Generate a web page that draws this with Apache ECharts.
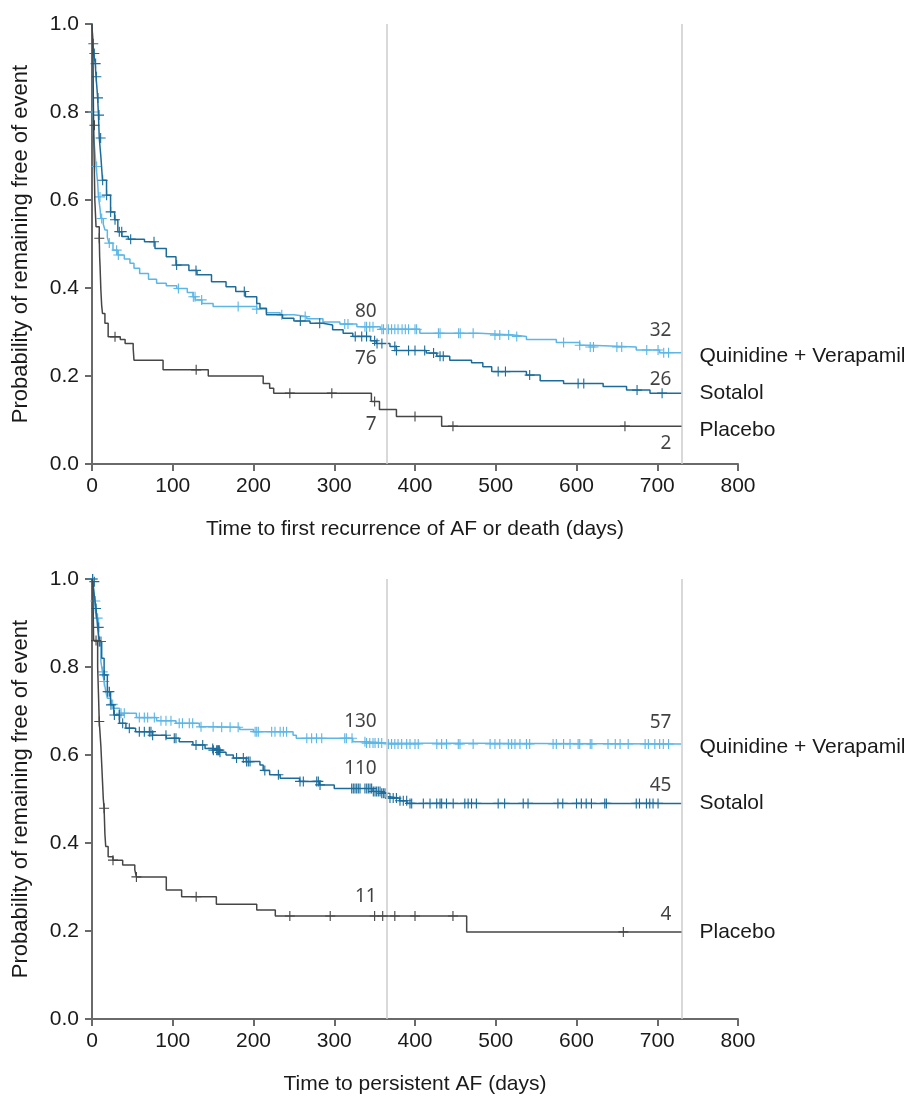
<!DOCTYPE html>
<html>
<head>
<meta charset="utf-8">
<script src="https://cdn.jsdelivr.net/npm/echarts@6/dist/echarts.min.js"></script>
<style>
  html, body { margin: 0; padding: 0; background: #fff; }
  #chart { width: 908px; height: 1096px; }
</style>
</head>
<body>
<div id="chart"></div>
<script>
// Kaplan-Meier curves, [day, probability from that day on]
const topQuinidine = [[0,1],[1,0.955],[1.5,0.8],[2,0.748],[4,0.7],[5,0.676],[7,0.64],[8,0.607],[10,0.58],[11,0.558],
  [14,0.545],[16,0.532],[19,0.515],[21,0.502],[26,0.486],[32,0.475],[40,0.466],[47,0.456],[52,0.445],[59,0.433],
  [70,0.42],[80,0.411],[92,0.405],[105,0.399],[118,0.39],[125,0.38],[128,0.373],[136,0.365],[150,0.358],[204,0.352],
  [216,0.344],[233,0.339],[250,0.335],[266,0.33],[286,0.323],[307,0.318],[328,0.312],[357,0.306],[406,0.297],
  [480,0.293],[522,0.29],[538,0.283],[575,0.276],[604,0.27],[617,0.266],[674,0.259],[703,0.253],[730,0.253]];
const topSotalol = [[0,1],[1,0.955],[2,0.933],[4,0.91],[5,0.88],[6,0.857],[7,0.832],[8,0.793],[9,0.741],[11,0.698],
  [13,0.645],[18,0.611],[23,0.573],[28,0.555],[32,0.528],[37,0.517],[45,0.511],[65,0.505],[78,0.49],[92,0.471],
  [104,0.452],[120,0.44],[130,0.43],[148,0.414],[166,0.403],[178,0.392],[190,0.38],[204,0.365],[208,0.354],
  [216,0.339],[236,0.331],[250,0.325],[270,0.32],[286,0.316],[298,0.305],[311,0.297],[323,0.29],[345,0.28],
  [352,0.274],[369,0.267],[377,0.258],[414,0.252],[427,0.245],[443,0.236],[470,0.23],[484,0.221],[495,0.21],
  [538,0.202],[555,0.189],[584,0.183],[633,0.176],[662,0.168],[691,0.161],[730,0.161]];
const topPlacebo = [[0,1],[1,0.945],[2,0.77],[3.5,0.6],[5,0.539],[9,0.513],[9.5,0.47],[10,0.448],[11,0.395],
  [12,0.36],[13,0.342],[16,0.32],[20,0.289],[35,0.283],[41,0.274],[51,0.263],[52,0.236],[88,0.214],[144,0.2],
  [212,0.183],[220,0.172],[225,0.161],[346,0.142],[356,0.124],[377,0.108],[433,0.086],[730,0.086]];

const bottomQuinidine = [[0,1],[1,0.994],[3,0.95],[5,0.911],[8,0.858],[11,0.812],[13,0.789],[15,0.767],[17,0.745],
  [19,0.729],[23,0.715],[26,0.706],[34,0.695],[55,0.685],[80,0.678],[104,0.672],[133,0.664],[154,0.663],[183,0.658],
  [200,0.653],[249,0.645],[253,0.638],[323,0.63],[340,0.627],[365,0.625],[730,0.625]];
const bottomSotalol = [[0,1],[1,0.994],[3,0.96],[5,0.933],[7,0.89],[9,0.858],[12,0.82],[15,0.782],[19,0.744],
  [23,0.714],[27,0.691],[34,0.672],[42,0.661],[54,0.653],[75,0.645],[92,0.638],[108,0.63],[125,0.623],[140,0.615],
  [150,0.611],[158,0.606],[166,0.6],[175,0.593],[191,0.585],[208,0.577],[212,0.565],[220,0.555],[233,0.547],
  [257,0.54],[282,0.532],[300,0.524],[348,0.517],[357,0.513],[365,0.505],[369,0.502],[381,0.496],[390,0.49],[730,0.49]];
const bottomPlacebo = [[0,1],[1,0.994],[2,0.86],[7,0.8],[8,0.74],[9,0.676],[11,0.62],[12,0.58],[13,0.54],[14,0.5],
  [15,0.479],[16,0.42],[17,0.392],[20,0.369],[26,0.361],[38,0.35],[53,0.339],[55,0.323],[92,0.293],[111,0.278],
  [154,0.261],[204,0.248],[227,0.234],[464,0.198],[730,0.198]];

// censored observations (days)
const topQuinidineCensor = [1.6,5.8,9.9,12,21.4,30.5,32.6,107,125.5,127.6,135.8,181,204,235,264,313,317,338,340,344,
  348,359,361,365,367,371,375,379,384,388,392,400,402,429,431,454,456,472,499,505,516,526,584,604,617,621,650,656,
  687,701,708,714];
const topSotalolCensor = [1.6,2.9,4.5,5.4,7.4,8.7,10.7,13.2,18.1,23.1,28.5,33.8,36.8,47.9,76.8,104.8,128.8,188.6,258,
  282,326,334,340,350,353,359,375,377,392,400,412,423,431,435,503,512,542,602,609,675,706];
const topPlaceboCensor = [3,9,28.5,129,245,297,350,400,447,660];

const bottomQuinidineCensor = [0.8,4.1,7,9.1,13.2,15.2,25.6,35.9,40,58.6,64.8,68.9,77.2,85.4,91.6,97.8,108,112,120.5,
  124.7,135,150,160.6,171,181,202,204,206,222.5,226.6,233,237,241,266,272,278,284.5,313,315,322,338,340,344,348,350.5,
  354.6,358.8,367,371,375,379,383.5,389.7,393.8,400,404,427,433,439,453.6,455.7,472,493,499,505,515.6,519.7,523.8,530,
  538,542,571,575,584,592,602,604,617,619,639,648,654,664,685,689,697,703,707.5,714];
const bottomSotalolCensor = [0.8,2.9,5,8.3,9.1,11.1,15.2,19.4,21.5,23.5,27.7,33.8,38,46.2,58.6,64.8,71,73,75.1,91.6,
  101.9,104,128.8,137.1,149.5,150.3,154.4,155.7,156.5,157.7,158.5,179,187.4,191.5,193.6,195.7,214,230.8,257.6,261.7,
  278.3,280.3,282.4,321.6,323.6,325.7,327.8,329.8,331.9,338,340.2,342.2,344.3,346.3,348.4,350.5,352.5,354.6,356.7,
  358.8,360.8,362.8,369,373,377,381.4,385.5,389.7,393.8,395.9,410.3,418.6,426.9,431,433,439,447.3,461.7,465.8,470,476,
  503,511,534,540,577,583,600,606,612,618.5,635,637,674,678,686.6,690.7,694.8,701];
const bottomPlaceboCensor = [5,9,15,26,55,129,245,295,350,360,375,400,447,658];

// numbers at risk at 1 and 2 years (quinidine, sotalol, placebo)
const refDays = [365, 730];
const topAtRisk = [[80, 76, 7], [32, 26, 2]];
const bottomAtRisk = [[130, 110, 11], [57, 45, 4]];

const armNames = ['Quinidine + Verapamil', 'Sotalol', 'Placebo'];
const xTitles = ['Time to first recurrence of AF or death (days)', 'Time to persistent AF (days)'];
const yTitle = 'Probability of remaining free of event';

// ---- styling ----
const FONT = '"Liberation Sans", Arial, sans-serif';
const NUM_FONT = '"Noto Sans", sans-serif';
const TEXT = '#1a1a1a';
const armColors = ['#5cb6e6', '#1c6c9b', '#464646'];
const AXIS = '#6a6a6a';
const PLUS = 'path://M4,0H5V4H9V5H5V9H4V5H0V4H4Z';
// vertical offsets (px) of the at-risk numbers, per panel / ref day / arm
const atRiskOffsets = [[[-18, 15, 15], [-22, -14, 17]], [[-22, -28, -19], [-21, -18, -17]]];
const endLabelOffsets = [[4, 0, 4], [3, 0, 0]];

function valueAt(curve, day){
  let v = curve[0][1];
  for(const [d, s] of curve){
    if(d <= day) v = s; else break;
  }
  return v;
}

const panels = [
  { curves: [topQuinidine, topSotalol, topPlacebo],
    censors: [topQuinidineCensor, topSotalolCensor, topPlaceboCensor], atRisk: topAtRisk, top: 24 },
  { curves: [bottomQuinidine, bottomSotalol, bottomPlacebo],
    censors: [bottomQuinidineCensor, bottomSotalolCensor, bottomPlaceboCensor], atRisk: bottomAtRisk, top: 579 }
];

const grid = [], xAxis = [], yAxis = [], series = [];

panels.forEach((p, g) => {
  grid.push({ left: 92, width: 646, top: p.top, height: 440 });
  xAxis.push({
    gridIndex: g, type: 'value', min: 0, max: 800, interval: 100,
    name: xTitles[g], nameLocation: 'middle', nameGap: 55,
    nameTextStyle: { fontSize: 21, color: TEXT, fontFamily: FONT },
    axisLine: { lineStyle: { color: AXIS, width: 2 } },
    axisTick: { length: 7, lineStyle: { color: AXIS, width: 2 } },
    axisLabel: { fontSize: 21, color: TEXT, fontFamily: FONT, margin: 12 },
    splitLine: { show: false }
  });
  yAxis.push({
    gridIndex: g, type: 'value', min: 0, max: 1, interval: 0.2,
    name: yTitle, nameLocation: 'middle', nameGap: 60, nameRotate: 90,
    nameTextStyle: { fontSize: 22, color: TEXT, fontFamily: FONT },
    axisLine: { show: true, lineStyle: { color: AXIS, width: 2 } },
    axisTick: { show: true, length: 7, lineStyle: { color: AXIS, width: 2 } },
    axisLabel: { fontSize: 21, color: TEXT, fontFamily: FONT, margin: 13, formatter: v => v.toFixed(1) },
    splitLine: { show: false }
  });

  p.curves.forEach((curve, i) => {
    const line = {
      type: 'line', name: armNames[i], xAxisIndex: g, yAxisIndex: g,
      data: curve, step: 'end', showSymbol: false, symbol: 'none',
      lineStyle: { color: armColors[i], width: 1.5 }, itemStyle: { color: armColors[i] },
      z: 3 + i,
      endLabel: {
        show: true, formatter: armNames[i], color: TEXT, fontSize: 21, fontFamily: FONT,
        distance: 18, offset: [0, endLabelOffsets[g][i]]
      }
    };
    if(i === 0){
      line.markLine = {
        silent: true, symbol: 'none', label: { show: false },
        lineStyle: { color: '#cdcdcd', width: 1.5, type: 'solid' },
        data: refDays.map(d => ({ xAxis: d }))
      };
    }
    series.push(line);

    series.push({
      type: 'scatter', xAxisIndex: g, yAxisIndex: g, silent: true, z: 3 + i,
      data: p.censors[i].map(d => [d, valueAt(curve, d)]),
      symbol: PLUS, symbolSize: 10, itemStyle: { color: armColors[i], opacity: 1 }
    });

    series.push({
      type: 'scatter', xAxisIndex: g, yAxisIndex: g, silent: true, z: 10,
      symbolSize: 1, itemStyle: { color: 'rgba(0,0,0,0)' },
      label: { show: true, position: 'inside', align: 'right', verticalAlign: 'middle',
               fontSize: 19, fontFamily: NUM_FONT, color: '#111' },
      data: refDays.map((d, k) => ({
        value: [d, valueAt(curve, d)],
        label: { formatter: String(p.atRisk[k][i]), offset: [-10, atRiskOffsets[g][k][i]] }
      }))
    });
  });
});

const chart = echarts.init(document.getElementById('chart'));
chart.setOption({ animation: false, backgroundColor: '#fff', grid, xAxis, yAxis, series });
</script>
</body>
</html>
